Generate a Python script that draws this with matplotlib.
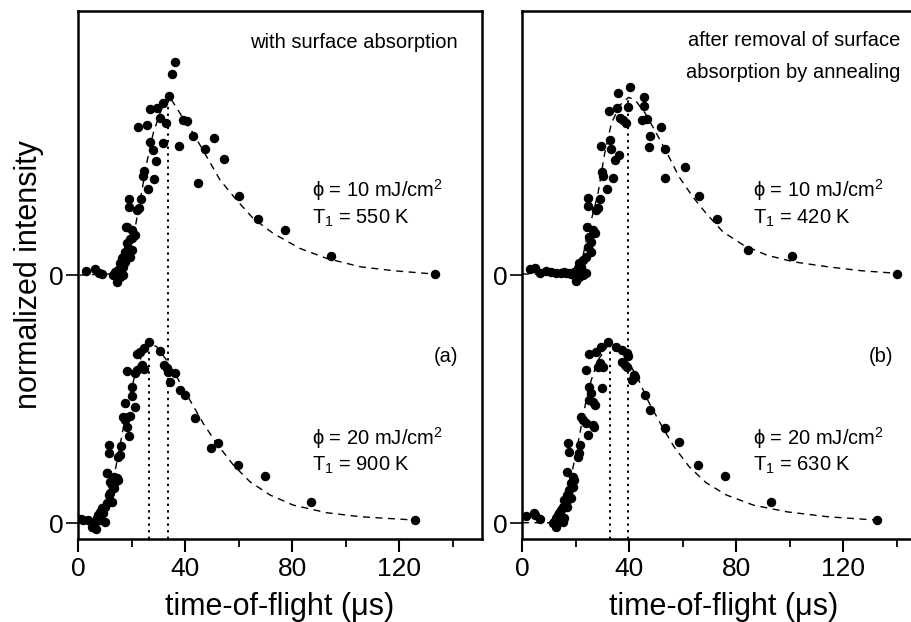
import matplotlib
matplotlib.use("Agg")
import matplotlib.pyplot as plt

plt.rcParams['font.family'] = ['Liberation Sans', 'DejaVu Sans']
plt.rcParams['mathtext.default'] = 'regular'

OFFSET = 1.37  # vertical offset of upper trace

# ---------------- Panel (a) ----------------
a_top_x = [3.1, 6.3, 7.8, 9.1, 13.1, 14.4, 15.0, 15.6, 16.9, 16.9, 15.6, 16.9, 18.7, 19.4, 18.1, 20.0, 21.2,
           19.4, 20.0, 16.3, 17.5, 18.5, 20.0, 13.8, 14.8, 16.0, 17.6, 18.2,
           19.1, 19.1, 23.5, 22.7, 21.9, 26.2, 24.7, 24.3, 28.5, 29.0, 26.9, 27.9, 31.8,
           22.6, 25.9, 26.9, 29.7, 30.6, 31.8, 32.8, 34.0, 35.3, 36.2,
           37.7, 39.3, 40.8, 42.8, 45.0, 47.6, 51.0, 54.7, 60.1, 67.2, 77.4, 94.5, 133.6]
a_top_y = [0.024, 0.035, 0.013, 0.006, 0.0, -0.037, 0.028, 0.065, 0.046, 0.0, -0.01, 0.101, 0.147, 0.197, 0.263, 0.249, 0.221,
           0.101, 0.138, 0.092, 0.129, 0.267, 0.203, 0.015, 0.005, 0.03, 0.07, 0.18,
           0.42, 0.377, 0.418, 0.368, 0.359, 0.473, 0.575, 0.55, 0.53, 0.632, 0.736, 0.69, 0.728,
           0.818, 0.83, 0.916, 0.925, 0.866, 0.95, 0.84, 0.99, 1.11, 1.178,
           0.715, 0.856, 0.853, 0.768, 0.51, 0.694, 0.76, 0.64, 0.436, 0.309, 0.249, 0.105, 0.004]

a_bot_x = [1.3, 2.0, 3.9, 5.1, 5.8, 6.4, 6.9, 7.0, 7.6, 8.2, 8.2, 8.9, 9.5, 10.1, 10.1, 10.7, 12.6, 11.4, 12.0,
           12.6, 13.3, 13.3, 13.9, 14.5, 10.7, 11.0, 11.9, 13.7, 15.0,
           11.4, 11.6, 16.1, 15.7, 14.9, 18.9, 17.0, 17.6, 19.5, 18.2, 17.6, 21.3, 20.1, 20.1,
           18.2, 21.3, 22.0, 23.9, 24.5, 22.0, 23.2, 24.5, 26.6, 30.7,
           32.0, 33.2, 33.8, 34.5, 36.2, 38.1, 40.0, 43.9, 49.7, 52.4, 59.7, 69.9, 87.2, 126.1]
a_bot_y = [0.02, 0.017, 0.017, -0.02, -0.002, 0.007, -0.03, 0.026, 0.044, 0.017, 0.062, 0.081, 0.054, 0.007, 0.09, 0.109, 0.118, 0.155, 0.164,
           0.21, 0.192, 0.256, 0.228, 0.247, 0.275, 0.278, 0.228, 0.247, 0.238,
           0.431, 0.385, 0.425, 0.376, 0.366, 0.481, 0.587, 0.569, 0.591, 0.532, 0.661, 0.643, 0.75, 0.703,
           0.841, 0.827, 0.845, 0.873, 0.849, 0.934, 0.946, 0.965, 1.0, 0.952,
           0.873, 0.855, 0.836, 0.781, 0.827, 0.735, 0.707, 0.578, 0.413, 0.444, 0.32, 0.26, 0.118, 0.017]

a_top_fit_x = [0.6, 11.9, 15.0, 18.1, 21.2, 23.7, 25.9, 28.1, 30.6, 32.5, 34.0, 36.2, 39.3, 43.1, 48.1,
               53.1, 59.3, 65.5, 73.0, 83.0, 93.0, 105.5, 118.0, 133.0]
a_top_fit_y = [0.0, 0.006, 0.046, 0.12, 0.249, 0.451, 0.635, 0.783, 0.893, 0.957, 0.989, 0.939, 0.866, 0.783, 0.654,
               0.525, 0.414, 0.313, 0.23, 0.147, 0.092, 0.046, 0.024, 0.006]
a_bot_fit_x = [0.0, 5.6, 9.4, 11.9, 13.7, 15.6, 17.5, 19.4, 21.6, 24.1, 26.6, 29.4, 33.1, 36.9, 41.8, 46.8,
               51.8, 58.1, 64.3, 71.8, 80.5, 93.0, 105.5, 125.5]
a_bot_fit_y = [0.002, 0.0, 0.054, 0.164, 0.275, 0.422, 0.569, 0.707, 0.836, 0.937, 0.996, 0.974, 0.9, 0.808, 0.68, 0.551,
               0.44, 0.32, 0.228, 0.155, 0.099, 0.057, 0.035, 0.017]

a_peak_x = [33.5, 26.4]
a_peak_y = [0.99 + 0, 1.0]

# ---------------- Panel (b) ----------------
b_top_x = [2.9, 5.0, 6.9, 8.8, 10.7, 12.6, 14.5, 15.8, 16.4, 17.7, 18.3, 19.5, 20.2, 20.2, 20.8, 21.4, 21.4, 22.1,
           22.7, 22.7, 24.0, 24.0, 25.9, 24.6, 25.9, 25.2, 27.1, 26.5, 24.2,
           24.6, 24.8, 29.0, 28.4, 27.8, 31.6, 34.1, 30.0, 30.3, 36.2, 34.7, 32.8, 29.7, 33.4,
           36.6, 37.9, 38.9, 32.7, 35.5, 35.8, 39.8, 40.4, 45.6, 45.5, 44.8, 46.7,
           48.0, 47.3, 52.0, 53.3, 53.6, 61.0, 66.0, 73.0, 84.6, 100.8, 140.2]
b_top_y = [0.031, 0.037, 0.013, 0.024, 0.018, 0.013, 0.009, 0.018, 0.013, 0.009, 0.006, 0.018, -0.031, -0.018, 0.037, -0.009, 0.065, 0.046,
           0.0, 0.083, 0.009, 0.101, 0.129, 0.156, 0.184, 0.212, 0.23, 0.249, 0.267,
           0.424, 0.383, 0.42, 0.368, 0.359, 0.475, 0.534, 0.571, 0.549, 0.663, 0.635, 0.746, 0.714, 0.696,
           0.869, 0.856, 0.838, 0.904, 0.922, 1.006, 0.93, 1.04, 0.985, 0.934, 0.856, 0.86,
           0.77, 0.705, 0.816, 0.696, 0.538, 0.598, 0.436, 0.309, 0.138, 0.107, 0.004]

b_bot_x = [1.6, 4.4, 5.0, 6.9, 11.4, 12.0, 12.6, 12.6, 12.6, 13.3, 13.9, 14.5, 15.2, 15.2, 15.8, 15.8, 16.4, 17.0,
           17.0, 17.7, 18.3, 18.3, 18.9, 18.9, 19.5, 16.8,
           17.3, 17.7, 21.8, 21.4, 20.8, 24.6, 22.1, 22.7, 24.0, 26.5, 26.8,
           25.2, 25.9, 26.5, 25.2, 27.1, 30.0,
           24.0, 29.0, 30.3, 28.4, 25.2, 27.8, 29.7, 32.2, 35.3, 37.2, 39.1, 39.8, 37.2, 38.5, 39.1,
           41.7, 41.0, 42.3, 46.1, 48.0, 53.6, 58.5, 65.6, 75.8, 93.0, 132.6]
b_bot_y = [0.039, 0.054, 0.044, 0.02, -0.002, 0.007, -0.011, -0.02, 0.026, 0.044, 0.054, 0.072, 0.007, 0.09, 0.026, 0.127, 0.109, 0.09,
           0.155, 0.182, 0.136, 0.219, 0.201, 0.256, 0.238, 0.284,
           0.44, 0.394, 0.431, 0.385, 0.366, 0.486, 0.587, 0.569, 0.551, 0.541, 0.532,
           0.75, 0.717, 0.67, 0.68, 0.652, 0.744,
           0.845, 0.882, 0.864, 0.864, 0.934, 0.946, 0.974, 1.0, 0.971, 0.956, 0.937, 0.923, 0.891, 0.873, 0.864,
           0.818, 0.79, 0.805, 0.707, 0.624, 0.523, 0.449, 0.32, 0.261, 0.118, 0.017]

b_top_fit_x = [0.0, 20.2, 22.1, 24.0, 25.9, 28.4, 30.9, 33.4, 36.6, 39.8, 42.3, 46.1, 49.9, 54.3, 58.7,
               63.8, 68.8, 75.1, 82.7, 91.5, 101.6, 114.2, 126.9, 140.8]
b_top_fit_y = [0.006, 0.006, 0.055, 0.193, 0.304, 0.451, 0.672, 0.838, 0.939, 0.982, 0.967, 0.893, 0.792, 0.672, 0.543,
               0.433, 0.341, 0.239, 0.166, 0.11, 0.073, 0.046, 0.024, 0.009]
b_bot_fit_x = [0.0, 10.7, 13.3, 15.8, 18.3, 20.2, 22.1, 24.0, 25.9, 28.4, 32.2, 36.0, 39.8, 43.6, 47.3, 51.7,
               56.8, 62.5, 68.8, 76.4, 86.5, 99.1, 114.2, 131.9]
b_bot_fit_y = [0.002, 0.002, 0.035, 0.127, 0.256, 0.385, 0.532, 0.68, 0.79, 0.9, 0.983, 0.965, 0.891, 0.79, 0.67, 0.551,
               0.422, 0.311, 0.223, 0.155, 0.099, 0.062, 0.035, 0.017]

b_peak_x = [39.5, 32.8]
b_peak_y = [0.98, 1.0]

# labels
x_label = "time-of-flight (μs)"
y_label = "normalized intensity"
x_ticks = [0, 40, 80, 120]

W, H = 912, 622
fig = plt.figure(figsize=(W / 100, H / 100), dpi=100)
ax_a = fig.add_axes([78 / W, (H - 539) / H, 404 / W, 528 / H])
ax_b = fig.add_axes([522 / W, (H - 539) / H, 404 / W, 528 / H])

YLIM = (-0.088, 2.829)
ms = 5.8
TXT = 14.5


def draw(ax, tx, ty, bx, by, tfx, tfy, bfx, bfy, px, py):
    ax.plot(tfx, [v + OFFSET for v in tfy], ls=(0, (5, 4)), color='black', lw=1.0, zorder=2)
    ax.plot(bfx, bfy, ls=(0, (5, 4)), color='black', lw=1.0, zorder=2)
    ax.plot(tx, [v + OFFSET for v in ty], 'o', color='black', ms=ms, mec='black', zorder=3)
    ax.plot(bx, by, 'o', color='black', ms=ms, mec='black', zorder=3)
    ax.vlines(px[0], YLIM[0], py[0] + OFFSET, colors='black', linestyles=(0, (1.2, 2.2)), lw=1.4, zorder=1)
    ax.vlines(px[1], YLIM[0], py[1], colors='black', linestyles=(0, (1.2, 2.2)), lw=1.4, zorder=1)
    ax.set_xlim(0, 151)
    ax.set_ylim(*YLIM)
    ax.set_xticks(x_ticks)
    ax.set_xticks([20, 60, 100, 140], minor=True)
    ax.set_yticks([0, OFFSET])
    ax.set_yticklabels(['0', '0'])
    ax.tick_params(axis='x', which='major', direction='out', length=9, width=1.5, labelsize=19, pad=4)
    ax.tick_params(axis='x', which='minor', direction='out', length=6, width=1.3)
    ax.tick_params(axis='y', which='major', direction='out', length=9, width=1.2, labelsize=19, pad=1)
    for s in ax.spines.values():
        s.set_linewidth(1.8)
    ax.set_xlabel(x_label, fontsize=22, labelpad=8)


draw(ax_a, a_top_x, a_top_y, a_bot_x, a_bot_y, a_top_fit_x, a_top_fit_y, a_bot_fit_x, a_bot_fit_y, a_peak_x, a_peak_y)
draw(ax_b, b_top_x, b_top_y, b_bot_x, b_bot_y, b_top_fit_x, b_top_fit_y, b_bot_fit_x, b_bot_fit_y, b_peak_x, b_peak_y)

ax_a.set_ylabel(y_label, fontsize=22, labelpad=4)


def txt(x, y, s, ha='left'):
    fig.text(x / W, 1 - y / H, s, fontsize=TXT, ha=ha, va='center')


txt(458, 42, "with surface absorption", ha='right')
txt(312, 190, "ϕ = 10 mJ/cm$^2$")
txt(312, 218, "T$_1$ = 550 K")
txt(458, 356, "(a)", ha='right')
txt(312, 438, "ϕ = 20 mJ/cm$^2$")
txt(312, 465, "T$_1$ = 900 K")

txt(900, 40, "after removal of surface", ha='right')
txt(900, 72, "absorption by annealing", ha='right')
txt(753, 190, "ϕ = 10 mJ/cm$^2$")
txt(753, 218, "T$_1$ = 420 K")
txt(893, 356, "(b)", ha='right')
txt(753, 438, "ϕ = 20 mJ/cm$^2$")
txt(753, 465, "T$_1$ = 630 K")

fig.savefig("out.png", dpi=100)
